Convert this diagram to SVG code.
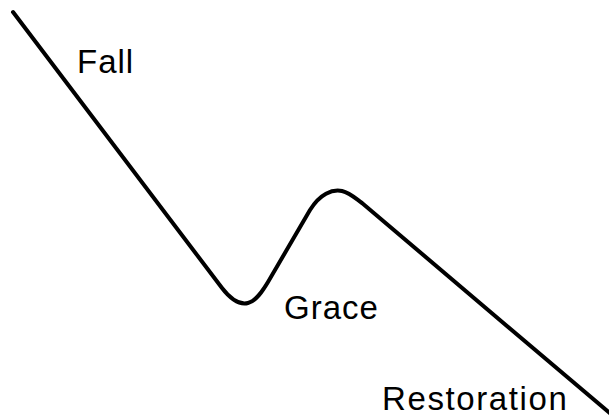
<svg xmlns="http://www.w3.org/2000/svg" width="609" height="417" viewBox="0 0 609 417">
<style>
.lbl{font-family:"Liberation Sans",Arial,sans-serif;font-size:33px;fill:#000;letter-spacing:1px}
.curve{fill:none;stroke:#000;stroke-width:4;stroke-linecap:round;stroke-linejoin:round}
</style>
<rect width="609" height="417" fill="#fff"/>
<g id="connectors">
<path class="curve" d="M13,12 L222,288 C232,301 240,305 248,303 C256,301 262,292 268,282 L310,210 C320,194 332,189 342,191 C350,193 355,198 362,203 L612,415"/>
</g>
<g id="fall"><text class="lbl" x="77" y="73">Fall</text></g>
<g id="grace"><text class="lbl" x="284" y="319">Grace</text></g>
<g id="restoration"><text class="lbl" x="382" y="410" style="letter-spacing:1.6px">Restoration</text></g>
</svg>
